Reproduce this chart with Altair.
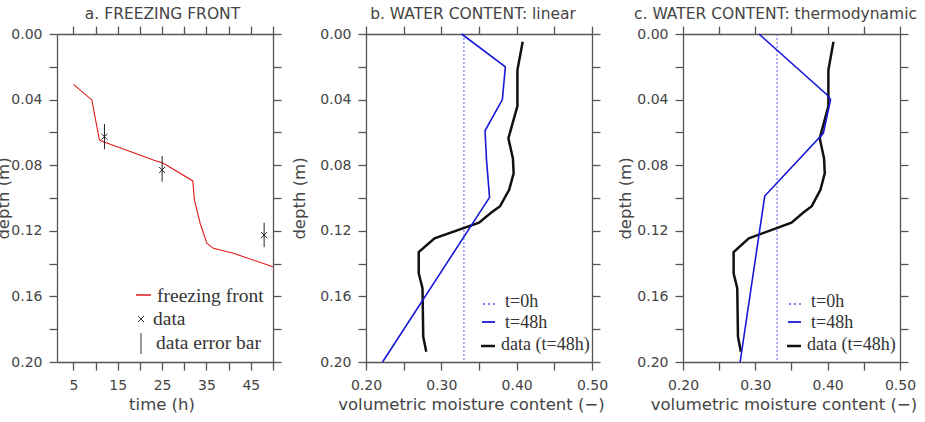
import altair as alt
import pandas as pd

# ---------------- data ----------------
# panel a: freezing front
ff_time = [5.0, 9.15, 10.86, 12.37, 23.04, 25.29, 31.92, 32.28, 32.82, 33.57, 35.08, 36.57, 41.08, 49.96]
ff_depth = [0.0307, 0.0402, 0.0646, 0.0663, 0.0768, 0.0788, 0.0896, 0.1012, 0.1073, 0.1154, 0.1276, 0.1307, 0.1337, 0.1419]
obs_time = [12, 25, 48]
obs_depth = [0.0626, 0.0829, 0.1226]
obs_lo = [0.0549, 0.0744, 0.1150]
obs_hi = [0.0703, 0.0900, 0.1300]

# panels b, c: moisture profiles
init_moist = [0.33, 0.33]
init_depth = [0.0, 0.20]
lin_moist = [0.327, 0.385, 0.381, 0.358, 0.360, 0.364, 0.222]
lin_depth = [0.0, 0.020, 0.040, 0.059, 0.077, 0.0996, 0.20]
thermo_moist = [0.305, 0.399, 0.404, 0.394, 0.313, 0.279]
thermo_depth = [0.0, 0.037, 0.040, 0.0606, 0.0988, 0.20]
data_moist = [0.408, 0.401, 0.401, 0.389, 0.395, 0.396, 0.390, 0.378, 0.366, 0.350, 0.291, 0.270, 0.270, 0.275, 0.276, 0.280]
data_depth = [0.0047, 0.022, 0.044, 0.0636, 0.0758, 0.085, 0.095, 0.105, 0.109, 0.115, 0.1246, 0.133, 0.146, 0.155, 0.1846, 0.1937]

titles = ["a. FREEZING FRONT", "b. WATER CONTENT: linear", "c. WATER CONTENT: thermodynamic"]
legend_a = ["freezing front", "data", "data error bar"]
legend_bc = ["t=0h", "t=48h", "data (t=48h)"]
y_ticks = [0.0, 0.02, 0.04, 0.06, 0.08, 0.10, 0.12, 0.14, 0.16, 0.18, 0.20]
x_ticks_a = [5, 10, 15, 20, 25, 30, 35, 40, 45, 50]
x_ticks_bc = [0.20, 0.25, 0.30, 0.35, 0.40, 0.45, 0.50]

# ---------------- style ----------------
H = 328
RED = "#e01818"
BLUE = "#1818d8"
LBLUE = "#5a5af0"
BLACK = "#111111"
TXT = "#444444"
SERIF = "Liberation Serif"
XSHAPE = "M-1,-1L1,1M-1,1L1,-1"

ylab = "round(datum.value*100) % 4 == 0 ? format(datum.value, '.2f') : ''"
xlab_bc = "round(datum.value*100) % 10 == 0 ? format(datum.value, '.2f') : ''"
xlab_a = "datum.value % 10 == 5 ? datum.label : ''"

yscale = alt.Scale(domain=[0, 0.2], reverse=True, nice=False, zero=False)


def left_axis(tx):
    return alt.Axis(orient="left", values=y_ticks, labelExpr=ylab, tickSize=8, labelPadding=7,
                    title="depth (m)", titleX=tx, titleY=H / 2, titleBaseline="bottom")


right_axis = alt.Axis(orient="right", values=y_ticks, labels=False, tickSize=8, title=None)


def bottom_axis(vals, expr, title, tx):
    return alt.Axis(orient="bottom", values=vals, labelExpr=expr, tickSize=8, labelPadding=8,
                    title=title, titlePadding=4, titleX=tx)


def top_axis(vals):
    return alt.Axis(orient="top", values=vals, labels=False, tickSize=8, title=None)


def title_params(text, dx):
    return alt.TitleParams(text=text, font="DejaVu Sans", fontSize=15.5, fontWeight="normal",
                           color=TXT, anchor="middle", frame="group", offset=-12,
                           baseline="bottom", dx=dx)


def ltext(label, x, y, size):
    return alt.Chart(pd.DataFrame({"label": [label]})).mark_text(
        align="left", baseline="middle", font=SERIF, fontSize=size, color="#333333"
    ).encode(text="label:N", x=alt.value(x), y=alt.value(y))


def lrule(x1, x2, y, color, width, dash=None):
    kw = dict(color=color, strokeWidth=width)
    if dash:
        kw["strokeDash"] = dash
    return alt.Chart(pd.DataFrame({"k": [0]})).mark_rule(**kw).encode(
        x=alt.value(x1), x2=alt.value(x2), y=alt.value(y))


# ---------------- panel a ----------------
xa = alt.Scale(domain=[1.3, 50], nice=False, zero=False)
df_ff = pd.DataFrame({"t": ff_time, "d": ff_depth})
df_obs = pd.DataFrame({"t": obs_time, "d": obs_depth, "lo": obs_lo, "hi": obs_hi})

frame_a = alt.Chart(df_ff).mark_line(strokeOpacity=0).encode(
    x=alt.X("t:Q", scale=xa, axis=top_axis(x_ticks_a)),
    y=alt.Y("d:Q", scale=yscale, axis=right_axis))
line_a = alt.Chart(df_ff).mark_line(color=RED, strokeWidth=1.1).encode(
    x=alt.X("t:Q", scale=xa, axis=bottom_axis(x_ticks_a, xlab_a, "time (h)", 216 / 2 - 3.5)),
    y=alt.Y("d:Q", scale=yscale, axis=left_axis(-46)),
    order="t:Q")
err_a = alt.Chart(df_obs).mark_rule(color="#222222", strokeWidth=1).encode(
    x=alt.X("t:Q", scale=xa, axis=None),
    y=alt.Y("lo:Q", scale=yscale, axis=None), y2="hi:Q")
pts_a = alt.Chart(df_obs).mark_point(shape=XSHAPE, size=36, filled=False, color="#222222",
                                     strokeWidth=1, opacity=1).encode(
    x=alt.X("t:Q", scale=xa, axis=None),
    y=alt.Y("d:Q", scale=yscale, axis=None))

leg_a = [
    lrule(79, 94, 261, RED, 1.5),
    ltext(legend_a[0], 100, 262, 19.5),
    alt.Chart(pd.DataFrame({"k": [0]})).mark_point(shape=XSHAPE, size=36, filled=False,
                                                   color="#333333", strokeWidth=1, opacity=1).encode(
        x=alt.value(84), y=alt.value(285)),
    ltext(legend_a[1], 96, 285, 19.5),
    alt.Chart(pd.DataFrame({"k": [0]})).mark_rule(color="#333333", strokeWidth=1).encode(
        x=alt.value(84), y=alt.value(299), y2=alt.value(320)),
    ltext(legend_a[2], 99, 309, 19.5),
]

panel_a = alt.layer(frame_a, line_a, err_a, pts_a, *leg_a).resolve_axis(
    x="independent", y="independent").properties(
    width=216, height=H, title=title_params(titles[0], -2.5))


# ---------------- panels b, c ----------------
def moist_panel(model_moist, model_depth, width, title, dx, lx, ytx):
    xs = alt.Scale(domain=[0.2, 0.5], nice=False, zero=False)
    df_init = pd.DataFrame({"m": init_moist, "d": init_depth})
    df_mod = pd.DataFrame({"m": model_moist, "d": model_depth})
    df_dat = pd.DataFrame({"m": data_moist, "d": data_depth})
    frame = alt.Chart(df_dat).mark_line(strokeOpacity=0).encode(
        x=alt.X("m:Q", scale=xs, axis=top_axis(x_ticks_bc)),
        y=alt.Y("d:Q", scale=yscale, axis=right_axis), order="d:Q")
    dat = alt.Chart(df_dat).mark_line(color=BLACK, strokeWidth=2.5).encode(
        x=alt.X("m:Q", scale=xs, axis=bottom_axis(x_ticks_bc, xlab_bc,
                                                  "volumetric moisture content (\u2212)", width / 2 - 8)),
        y=alt.Y("d:Q", scale=yscale, axis=left_axis(ytx)), order="d:Q")
    ini = alt.Chart(df_init).mark_line(color=LBLUE, strokeWidth=1, strokeDash=[2, 2]).encode(
        x=alt.X("m:Q", scale=xs, axis=None),
        y=alt.Y("d:Q", scale=yscale, axis=None), order="d:Q")
    mod = alt.Chart(df_mod).mark_line(color=BLUE, strokeWidth=1.6).encode(
        x=alt.X("m:Q", scale=xs, axis=None),
        y=alt.Y("d:Q", scale=yscale, axis=None), order="d:Q")
    leg = [
        lrule(lx, lx + 13, 270, LBLUE, 1.5, [2, 3]),
        ltext(legend_bc[0], lx + 22, 268, 18),
        lrule(lx - 1, lx + 12, 288, BLUE, 1.8),
        ltext(legend_bc[1], lx + 22, 289, 18),
        lrule(lx - 2, lx + 12, 312, BLACK, 2.5),
        ltext(legend_bc[2], lx + 18, 311, 18),
    ]
    return alt.layer(frame, ini, dat, mod, *leg).resolve_axis(
        x="independent", y="independent").properties(
        width=width, height=H, title=title_params(title, dx))


panel_b = moist_panel(lin_moist, lin_depth, 226, titles[1], -6, 117, -59)
panel_c = moist_panel(thermo_moist, thermo_depth, 217, titles[2], -16, 106, -50)

chart = alt.hconcat(panel_a, panel_b, panel_c, spacing=9).properties(
    padding={"left": -5, "top": 6, "right": 0, "bottom": 0}
).configure_view(stroke=None).configure_axis(
    domainColor="#555555", tickColor="#555555", domainWidth=1.3, tickWidth=1.3,
    labelFont="DejaVu Sans", labelFontSize=14, labelColor=TXT,
    titleFont="DejaVu Sans", titleFontSize=16.5, titleFontWeight="normal", titleColor=TXT,
    grid=False, labelFlush=False, labelOverlap=False
)

chart.save("out.html", embed_options={"renderer": "svg", "actions": False})
